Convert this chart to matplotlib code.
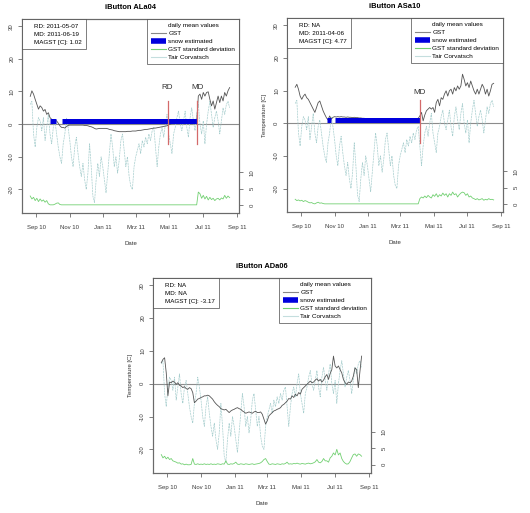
import numpy as np
import pandas as pd
import matplotlib
matplotlib.use('Agg')
import matplotlib.pyplot as plt
from matplotlib.lines import Line2D

plt.rcParams['font.family'] = ['Liberation Sans', 'DejaVu Sans']
plt.rcParams['axes.unicode_minus'] = False

dates = pd.date_range('2010-08-21', periods=122, freq='3D')

tair_corvatsch = [
    6, 7, -3, -7, -1, 2, 1, -2, 2, -5,
    -1, 3, -3, -6, -1, 1, -3, -7, -10, -12,
    -6, -3, 2, -1, -5, -10, -13, -7, -4, -9,
    -13, -16, -12, -17, -20, -15, -6, -13, -22, -24,
    -17, -12, -16, -10, -13, -17, -21, -15, -9, -3,
    -7, -13, -10, -15, -11, -5, -3, -8, -13, -10,
    -16, -19, -20, -13, -10, -8, -6, -9, -5, -7,
    -4, -6, -3, -5, -2, -1, -7, -13, -7, -3,
    -1, -4, 0, 3, -3, -6, -9, -3, -1, 2,
    4, 0, -2, 1, 4, -1, -4, 2, 5, 1,
    -2, 3, 6, 0, -3, 1, -6, 0, 4, 7,
    3, -1, 2, 4, 1, -3, 1, 5, 3, 6,
    7, 5]

gst_ala04 = [
    8.5, 10.2, 9.2, 7.6, 6.1, 4.6, 5.6, 5.1, 4.0, 4.5,
    3.0, 3.5, 2.0, 1.5, 1.0, 1.2, 1.0, 0.3, -0.5, -1.0,
    -1.0, -1.2, -0.7, -0.4, -0.3, -0.3, -0.3, -0.3, -0.3, -0.3,
    -0.3, -0.3, -0.3, -0.4, -0.4, -0.5, -0.7, -0.8, -1.0, -1.3,
    -1.5, -1.4, -1.3, -1.3, -1.3, -1.3, -1.3, -1.4, -1.6, -1.7,
    -1.8, -2.0, -2.1, -2.2, -2.3, -2.3, -2.3, -2.3, -2.3, -2.2,
    -2.2, -2.2, -2.1, -2.1, -2.1, -2.0, -1.9, -1.9, -1.8, -1.7,
    -1.6, -1.6, -1.5, -1.4, -1.3, -1.2, -1.2, -1.1, -1.0, -0.9,
    -0.8, -0.7, -0.6, -0.5, -0.2, 0.0, 0.2, 0.3, 0.3, 0.4,
    0.4, 0.5, 0.5, 0.6, 0.6, 0.7, 0.7, 0.6, 0.7, 0.7,
    0.6, 0.4, 8.6, 9.2, 7.6, 9.7, 8.6, 9.7, 9.9, 7.6,
    5.6, 7.1, 4.6, 6.6, 8.6, 6.6, 8.6, 7.1, 9.7, 8.6,
    10.2, 11.2]
sd_ala04 = ([2.7, 1.8, 2.3, 1.3, 2.0, 1.0, 1.8, 1.1, 1.5, 0.8,
             1.3, 0.3, 0.0, 0.0, 0.0, 0.2, 0.5, 0.6, 0.1, 0.0]
            + [0.0] * 82
            + [3.9, 3.4, 2.0, 2.9, 1.8, 2.6, 1.5, 2.3, 1.6, 2.0,
               1.3, 1.8, 2.0, 1.5, 2.1, 1.8, 2.9, 2.0, 2.7, 2.2])

gst_asa10 = [
    11.0, 11.9, 10.4, 8.3, 7.3, 8.3, 8.9, 7.8, 7.3, 6.3,
    5.3, 4.3, 3.3, 4.8, 6.3, 6.8, 5.3, 3.8, 2.7, 1.7,
    1.0, 2.2, 1.2, 1.8, 2.0, 1.9, 2.0, 1.9, 2.0, 1.9,
    1.9, 1.8, 1.9, 1.8, 1.8, 1.7, 1.8, 1.7, 1.7, 1.6,
    1.6, 1.5, 1.5, 1.4, 1.4, 1.4, 1.4, 1.3, 1.3, 1.3,
    1.3, 1.3, 1.3, 1.3, 1.2, 1.2, 1.2, 1.2, 1.2, 1.2,
    1.2, 1.2, 1.2, 1.2, 1.2, 1.2, 1.2, 1.2, 1.2, 1.3,
    1.3, 1.3, 1.3, 1.4, 1.4, 1.5, 2.2, 3.3, 0.7, 2.5,
    3.8, 4.3, 4.8, 4.3, 4.8, 3.3, 6.3, 7.3, 5.3, 7.8,
    7.3, 8.9, 9.9, 8.3, 9.9, 10.4, 8.9, 10.9, 9.9, 11.4,
    10.4, 11.4, 15.0, 13.4, 11.4, 12.4, 10.9, 12.9, 11.4, 9.9,
    8.9, 10.4, 8.9, 10.4, 11.9, 10.9, 8.9, 10.4, 8.3, 9.9,
    11.9, 12.2]
sd_asa10 = ([1.4, 1.0, 1.2, 0.9, 1.1, 0.7, 1.0, 0.8, 0.5, 0.3,
             0.4, 0.1, 0.0, 0.3, 0.5, 0.2, 0.3, 0.1]
            + [0.0] * 58
            + [1.6, 2.1, 1.8, 2.4, 1.9, 2.6, 2.1, 1.8, 2.8, 2.3,
               3.1, 2.1, 2.8, 2.4, 3.3, 2.6, 3.1, 2.1, 3.1, 2.6,
               3.6, 2.8, 3.1, 2.1, 2.8, 3.3, 3.6, 3.4, 2.6, 3.1,
               2.1, 2.4, 1.8, 1.6, 1.3, 1.6, 1.2, 1.4, 1.6, 1.1,
               1.4, 1.2, 1.6, 1.3, 1.4, 1.2])

gst_ada06 = [
    6.4, 7.4, 7.9, 3.3, -3.7, 0.5, 0.3, 0.8, 0.5, -0.2,
    0.3, -0.5, -0.7, -1.2, -0.9, -1.5, -1.7, -1.2, -1.5, -2.7,
    -5.8, -5.3, -4.7, -4.5, -4.2, -4.0, -3.7, -3.7, -3.5, -3.7,
    -4.2, -4.7, -5.5, -6.1, -6.6, -7.0, -7.6, -7.8, -8.0, -7.8,
    -8.3, -8.8, -8.3, -8.0, -7.8, -7.5, -7.3, -7.6, -7.8, -8.3,
    -8.6, -9.0, -8.8, -8.6, -8.8, -9.0, -8.6, -8.4, -8.8, -8.8,
    -8.6, -9.3, -10.8, -12.3, -11.3, -9.8, -9.3, -8.8, -8.3, -8.1,
    -7.8, -7.6, -7.3, -6.6, -6.3, -5.8, -5.3, -4.5, -4.7, -3.7,
    -4.2, -3.2, -3.7, -2.7, -3.2, -1.7, -1.2, -0.7, -0.2, 0.3,
    0.8, 0.3, 0.5, 1.1, 1.5, 0.8, 1.3, 0.5, 1.1, 2.1,
    2.8, 1.3, 3.1, 4.3, 8.4, 5.4, 4.8, 5.4, 4.3, 3.3,
    1.3, 0.3, -0.2, 0.5, 0.3, 0.8, 2.3, 4.8, 4.3, -1.2,
    3.8, 8.4]
sd_ada06 = [
    3.1, 2.1, 2.6, 1.8, 2.3, 1.6, 1.9, 1.2, 1.0, 0.8,
    0.5, 0.6, 0.2, 0.3, 0.0, 0.2, 0.0, 0.0, 0.1, 1.9, 0.2,
    0.1, 0.3, 0.1, 0.2, 0.1, 0.3, 0.1, 0.2, 0.1, 0.3, 0.1, 0.2, 0.1, 0.3, 0.2, 0.1, 0.3, 0.2,
    1.2, 0.2, 0.1, 0.3, 0.2, 0.4, 0.8,
    0.2, 0.1, 0.3, 0.2, 0.1, 0.3, 0.2, 0.1, 0.2, 0.3, 0.1, 0.2, 0.3, 0.4, 0.6,
    1.0, 1.6, 1.9, 1.0,
    0.2, 0.1, 0.3, 0.2, 0.1, 0.3, 0.2, 0.1, 0.3, 0.2, 0.4,
    0.8,
    0.2, 0.3, 0.2, 0.4, 0.3, 0.5, 0.3, 0.2, 0.4, 0.3, 0.2, 0.4, 0.5, 0.3, 0.4, 0.6, 0.9,
    1.6, 0.8, 0.6, 1.0, 1.9, 1.2, 1.2, 0.8, 2.1, 2.6, 3.6, 3.0, 4.7, 3.0,
    3.6, 1.9, 1.0, 0.5, 0.2, 0.3, 1.0, 2.1, 3.1, 3.3, 2.6, 3.3, 3.1, 2.6]

# snow cover periods (start, end)
snow_ala04 = [('2010-09-26', '2010-10-06'), ('2010-10-17', '2011-06-21')]
snow_asa10 = [('2010-10-19', '2010-10-25'), ('2010-11-01', '2011-04-06')]
snow_ada06 = []

# RD / MD vertical markers as drawn
marks_ala04 = [('RD', '2011-04-28'), ('MD', '2011-06-21')]
marks_asa10 = [('MD', '2011-04-06')]
marks_ada06 = []

info_ala04 = ['RD: 2011-05-07', 'MD: 2011-06-19', 'MAGST [C]: 1.02']
info_asa10 = ['RD: NA', 'MD: 2011-04-06', 'MAGST [C]: 4.77']
info_ada06 = ['RD: NA', 'MD: NA', 'MAGST [C]: -3.17']

tick_dates = ['2010-09-01', '2010-11-01', '2011-01-01', '2011-03-01',
              '2011-05-01', '2011-07-01', '2011-09-01']
tick_labels = ['Sep 10', 'Nov 10', 'Jan 11', 'Mrz 11', 'Mai 11', 'Jul 11', 'Sep 11']

for arr in (tair_corvatsch, gst_ala04, sd_ala04, gst_asa10, sd_asa10, gst_ada06, sd_ada06):
    assert len(arr) == len(dates), len(arr)

GST_C = '#555555'
SNOW_C = '#0000dd'
SD_C = '#72d072'
TAIR_C = '#a9cfcf'
RED_C = '#d46a6a'
FRAME_C = '#6a6a6a'

YLIM = (-27.2, 32.2)
SD_OFFSET = 24.7

fig = plt.figure(figsize=(5.30, 5.13), dpi=100)


def panel(rect, name, gst, sd, snow, marks, info, mark_y, ylabel=True):
    ax = fig.add_axes(rect)
    ax2 = ax.twinx()

    ax.axhline(0, color='#8c8c8c', lw=0.8, zorder=1)
    ax.plot(dates, tair_corvatsch, color=TAIR_C, lw=0.5, dashes=(3, 1), zorder=2)
    ax.plot(dates, gst, color=GST_C, lw=0.6, zorder=3)
    for s, e in snow:
        ax.plot([pd.Timestamp(s), pd.Timestamp(e)], [1, 1], color=SNOW_C,
                lw=3.6, solid_capstyle='butt', zorder=4)
    for lab, d in marks:
        d = pd.Timestamp(d)
        ax.plot([d, d], [-6, 7], color=RED_C, lw=0.9, zorder=5)
        ax.text(d, mark_y, lab, ha='center', va='center', fontsize=5.8,
                color='#333333')
    ax2.plot(dates, sd, color=SD_C, lw=0.6)

    ax.set_xlim(pd.Timestamp('2010-08-06'), pd.Timestamp('2011-09-05'))
    ax.set_ylim(*YLIM)
    ax2.set_ylim(YLIM[0] + SD_OFFSET, YLIM[1] + SD_OFFSET)
    ax.set_yticks([-20, -10, 0, 10, 20, 30])
    ax2.set_yticks([0, 5, 10])
    ax.set_xticks([pd.Timestamp(t) for t in tick_dates])
    ax.set_xticklabels(tick_labels)

    for a in (ax, ax2):
        a.tick_params(direction='out', length=3.1, width=0.6, color=FRAME_C,
                      labelsize=4.3, labelcolor='#3a3a3a')
        a.tick_params(axis='y', labelrotation=90, pad=2.5)
        for sp in a.spines.values():
            sp.set_color(FRAME_C)
            sp.set_linewidth(0.8)
    ax2.tick_params(axis='y', pad=4.5)
    ax.tick_params(axis='x', pad=5.7)
    plt.setp(ax.get_yticklabels(), va='center')
    plt.setp(ax2.get_yticklabels(), va='center')

    ax.set_title(name, fontsize=5.4, fontweight='bold', pad=7.5)
    ax.set_xlabel('Date', fontsize=4.3, labelpad=7.5, color='#333333')
    if ylabel:
        ax.set_ylabel('Temperature [C]', fontsize=4.3, labelpad=5, color='#333333')

    # info box (top left)
    blank = [Line2D([], [], color='none') for _ in info]
    leg1 = ax2.legend(blank, info, loc='upper left', borderaxespad=0,
                      fontsize=4.5, frameon=True, fancybox=False,
                      edgecolor='#444444', handlelength=0.8, handletextpad=0.4,
                      borderpad=0.7, labelspacing=0.42)
    leg1.get_frame().set_linewidth(0.6)
    ax2.add_artist(leg1)

    # legend (top right)
    handles = [Line2D([], [], color='#888888', lw=0.8),
               Line2D([], [], color=SNOW_C, lw=4, solid_capstyle='butt'),
               Line2D([], [], color=SD_C, lw=0.8),
               Line2D([], [], color='#c4dede', lw=0.8)]
    labels = ['GST', 'snow estimated', 'GST standard deviation', 'Tair Corvatsch']
    leg2 = ax2.legend(handles, labels, title='daily mean values',
                      loc='upper right', borderaxespad=0, fontsize=4.6,
                      title_fontsize=4.6, frameon=True, fancybox=False,
                      edgecolor='#444444', handlelength=2.3, handletextpad=0.4,
                      borderpad=0.6, labelspacing=0.4)
    leg2.get_frame().set_linewidth(0.6)
    return ax


panel([0.0415, 0.5848, 0.4094, 0.3782], 'iButton ALa04', gst_ala04, sd_ala04,
      snow_ala04, marks_ala04, info_ala04, 11.3, ylabel=False)
panel([0.5415, 0.5867, 0.4075, 0.3782], 'iButton ASa10', gst_asa10, sd_asa10,
      snow_asa10, marks_asa10, info_asa10, 9.4)
panel([0.2887, 0.0780, 0.4113, 0.3801], 'iButton ADa06', gst_ada06, sd_ada06,
      snow_ada06, marks_ada06, info_ada06, 0)

fig.savefig('out.png', dpi=100)
